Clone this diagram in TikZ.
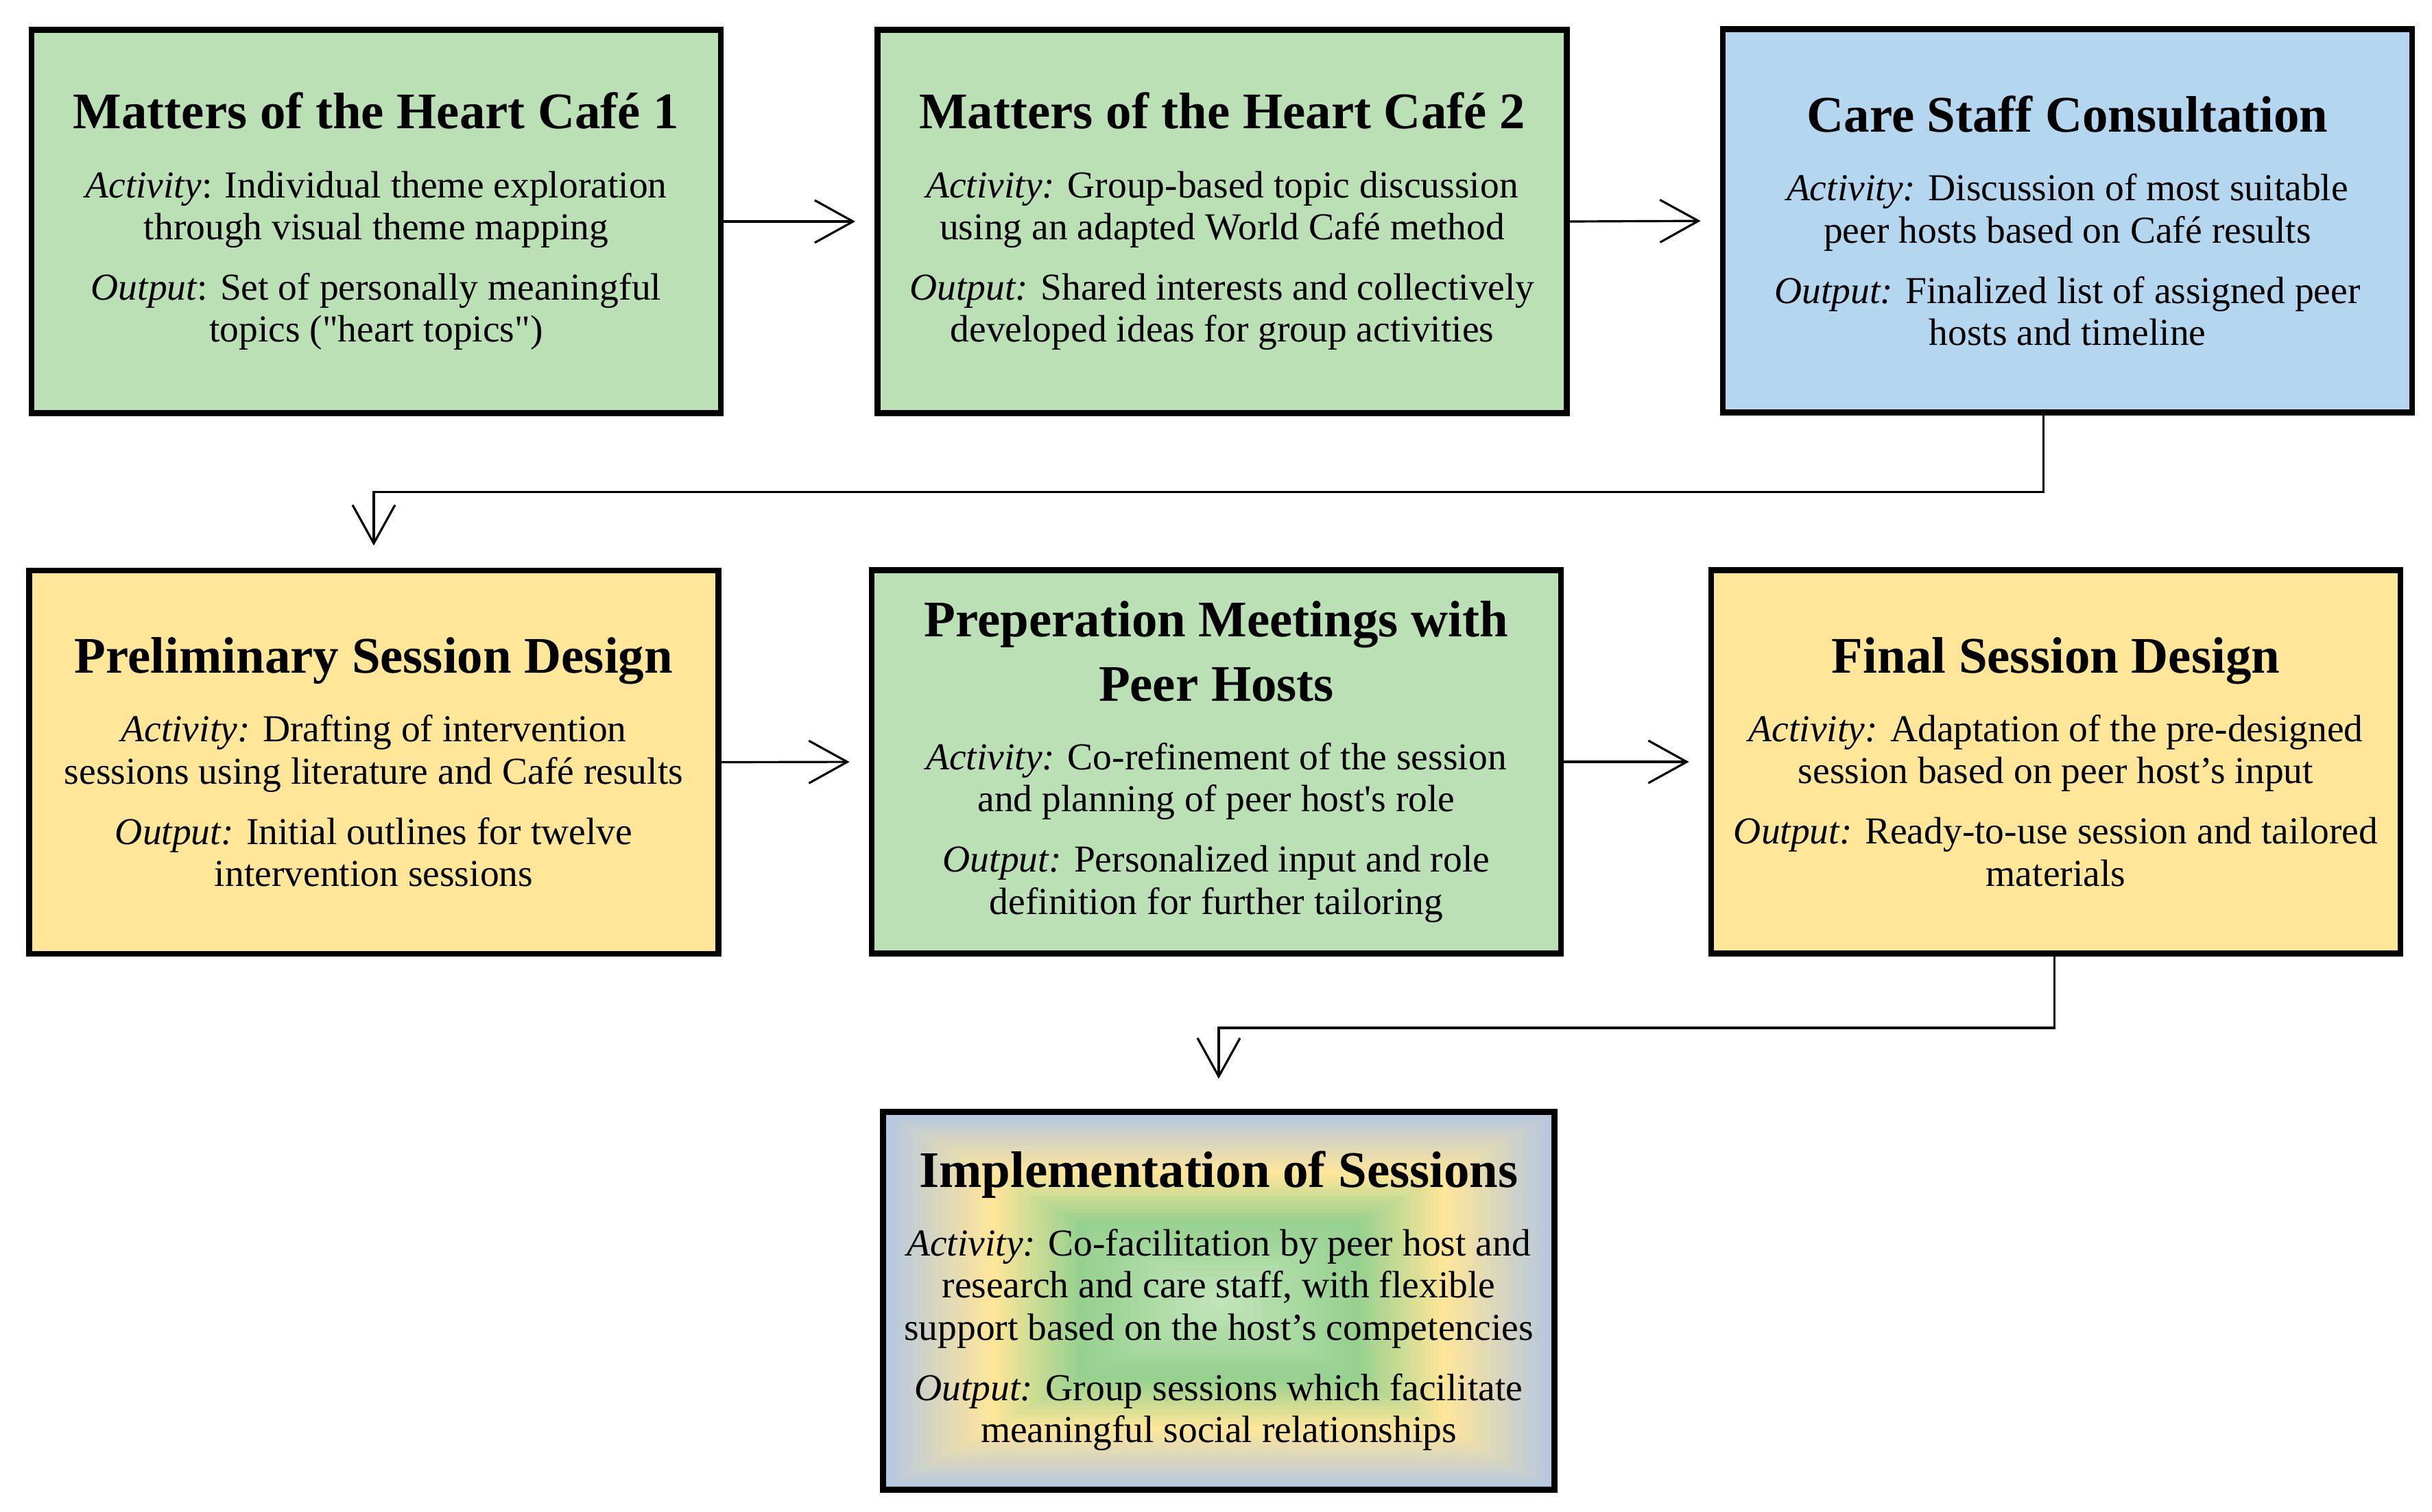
\documentclass[tikz,border=0pt]{standalone}
\usepackage{fontspec}
\setmainfont{Liberation Serif}
\usetikzlibrary{arrows.meta,backgrounds}

\definecolor{cafegreen}{HTML}{BCE0B6}
\definecolor{staffblue}{HTML}{B4D6EE}
\definecolor{designyellow}{HTML}{FFE699}
\definecolor{gradblue}{HTML}{B4C7E2}
\definecolor{gradgreen}{HTML}{96D18F}
\definecolor{gradlight}{HTML}{C4E5BC}

\newcommand{\boxtitle}[1]{{\fontsize{21.3}{24}\selectfont\bfseries #1}}

\tikzset{
  stage/.style={draw=black, line width=2.5pt, align=center, inner sep=0pt,
    minimum width=10.05cm, minimum height=5.59cm,
    font=\fontsize{15.8}{17.5}\selectfont},
  flow/.style={-{Straight Barb[length=5.6mm,width=6.2mm]}, line width=0.9pt, shorten >=2.8mm}
}

\begin{document}
\begin{tikzpicture}
    \useasboundingbox (0,0) rectangle (35.46,-22.04);

    % first row
    \node[stage, fill=cafegreen] (cafeA) at (5.485,-3.23)
      {\boxtitle{Matters of the Heart Café 1}\\[11pt]
       {\itshape Activity}: Individual theme exploration\\
       through visual theme mapping\\[7.5pt]
       {\itshape Output}: Set of personally meaningful\\
       topics (\textquotedbl heart topics\textquotedbl)};
    \node[stage, fill=cafegreen] (cafeB) at (17.82,-3.23)
      {\boxtitle{Matters of the Heart Café 2}\\[11pt]
       {\itshape Activity:} Group-based topic discussion\\
       using an adapted World Café method\\[7.5pt]
       {\itshape Output:} Shared interests and collectively\\
       developed ideas for group activities};
    \node[stage, fill=staffblue] (care) at (30.145,-3.22)
      {\boxtitle{Care Staff Consultation}\\[11pt]
       {\itshape Activity:} Discussion of most suitable\\
       peer hosts based on Café results\\[7.5pt]
       {\itshape Output:} Finalized list of assigned peer\\
       hosts and timeline};

    % second row
    \node[stage, fill=designyellow] (prelim) at (5.45,-11.115)
      {\boxtitle{Preliminary Session Design}\\[11pt]
       {\itshape Activity:} Drafting of intervention\\
       sessions using literature and Café results\\[7.5pt]
       {\itshape Output:} Initial outlines for twelve\\
       intervention sessions};
    \node[stage, fill=cafegreen] (prep) at (17.735,-11.11)
      {\boxtitle{Preperation Meetings with}\\[7pt]
       \boxtitle{Peer Hosts}\\[11pt]
       {\itshape Activity:} Co-refinement of the session\\
       and planning of peer host\textquotesingle s role\\[7.5pt]
       {\itshape Output:} Personalized input and role\\
       definition for further tailoring};
    \node[stage, fill=designyellow] (final) at (29.975,-11.11)
      {\boxtitle{Final Session Design}\\[11pt]
       {\itshape Activity:} Adaptation of the pre-designed\\
       session based on peer host’s input\\[7.5pt]
       {\itshape Output:} Ready-to-use session and tailored\\
       materials};

    % last step
    \node[stage, minimum width=9.79cm, minimum height=5.51cm] (impl) at (17.77,-18.97)
      {\boxtitle{Implementation of Sessions}\\[11pt]
       {\itshape Activity:} Co-facilitation by peer host and\\
       research and care staff, with flexible\\
       support based on the host’s competencies\\[7.5pt]
       {\itshape Output:} Group sessions which facilitate\\
       meaningful social relationships};
    \begin{scope}[on background layer, shift={(impl.center)}]
      \foreach \i [evaluate=\i as \d using 1-0.32*\i/20, evaluate=\i as \p using int(5*\i)] in {0,...,20}
        \fill[designyellow!\p!gradblue] (-4.9*\d,-2.76*\d) rectangle (4.9*\d,2.76*\d);
      \foreach \i [evaluate=\i as \d using 0.68-0.26*\i/20, evaluate=\i as \p using int(5*\i)] in {1,...,20}
        \fill[gradgreen!\p!designyellow] (-4.9*\d,-2.76*\d) rectangle (4.9*\d,2.76*\d);
      \foreach \i [evaluate=\i as \d using 0.42-0.42*\i/16, evaluate=\i as \p using int(100*\i/16)] in {1,...,15}
        \fill[gradlight!\p!gradgreen] (-4.9*\d,-2.76*\d) rectangle (4.9*\d,2.76*\d);
    \end{scope}

    % connectors
    \draw[flow] (cafeA.east) -- (cafeB.west);
    \draw[flow] (cafeB.east) -- (care.west);
    \draw[flow, shorten >=3.2mm] ([xshift=-3.5mm]care.south) -- ++(0,-1.12) -| (prelim.north);
    \draw[flow] (prelim.east) -- (prep.west);
    \draw[flow] (prep.east) -- (final.west);
    \draw[flow, shorten >=4.4mm] ([xshift=-0.2mm]final.south) -- ++(0,-1.04) -| (impl.north);
\end{tikzpicture}
\end{document}
